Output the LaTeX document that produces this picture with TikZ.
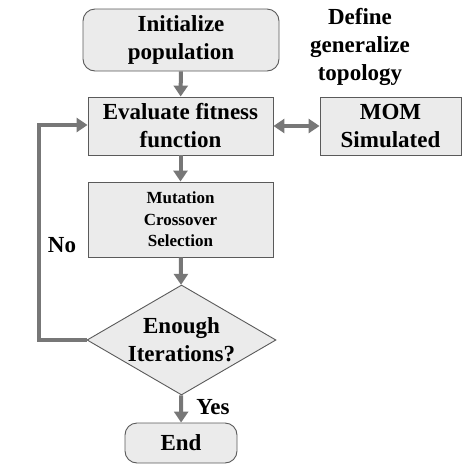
\documentclass[tikz,border=0pt]{standalone}
\usepackage{fontspec}
\setmainfont{Liberation Serif}
\usepackage{xcolor}
\usetikzlibrary{shapes.geometric,arrows.meta}
\definecolor{boxfill}{HTML}{EBEBEB}
\definecolor{boxline}{HTML}{5A5A5A}
\definecolor{arrgray}{HTML}{777777}
\begin{document}
\begin{tikzpicture}[x=1pt,y=-1pt,
  box/.style={draw=boxline, fill=boxfill, line width=0.9pt, inner sep=0pt, align=center,
    font=\fontsize{23}{28}\selectfont\bfseries},
  rbox/.style={box, rounded corners=12pt},
  txt/.style={inner sep=0pt, align=center, font=\fontsize{23}{28}\selectfont\bfseries},
  arr/.style={draw=arrgray, line width=4pt, -{Triangle[width=14pt,length=11pt]}}]
\useasboundingbox (0,0) rectangle (462,464);
% Boxes
\node[rbox, minimum width=196pt, minimum height=62pt] (init) at (181,40) {Initialize\\population};
\node[box, minimum width=185pt, minimum height=58pt] (eval) at (180.5,126) {Evaluate fitness\\function};
\node[box, minimum width=141pt, minimum height=58pt] (mom) at (390.5,126) {MOM\\Simulated};
\node[txt] (topo) at (360,47) {Define\\generalize\\topology};
\node[box, minimum width=185pt, minimum height=75pt, font=\fontsize{17}{21.5}\selectfont\bfseries] (mut) at (180.5,219.5) {Mutation\\Crossover\\Selection};
\node[diamond, draw=boxline, fill=boxfill, line width=0.9pt, inner sep=0pt, minimum width=189pt, minimum height=110pt] (dec) at (181.5,340) {};
\node[txt] (dectxt) at (dec.center) {Enough\\Iterations?};
\node[rbox, minimum width=112pt, minimum height=40pt] (stop) at (181,443) {End};
% Labels
\node[txt] (no) at (62,245) {No};
\node[txt] (yes) at (213,407) {Yes};
% Arrows
\coordinate (lb) at (39,340);
\coordinate (lt) at (39,125);
\draw[arr] (init) -- (eval);
\draw[arr] (eval) -- (mut);
\draw[arr] (mut) -- (dec);
\draw[arr] (dec) -- (stop);
\draw[arr, -{Triangle[width=14pt,length=11pt]}, line join=miter] (dec.west) -- (lb) -- (lt) -- (eval.west |- lt);
\draw[arr, {Triangle[width=14pt,length=11pt]}-{Triangle[width=14pt,length=11pt]}] (eval.east) -- (mom.west);
\end{tikzpicture}
\end{document}
